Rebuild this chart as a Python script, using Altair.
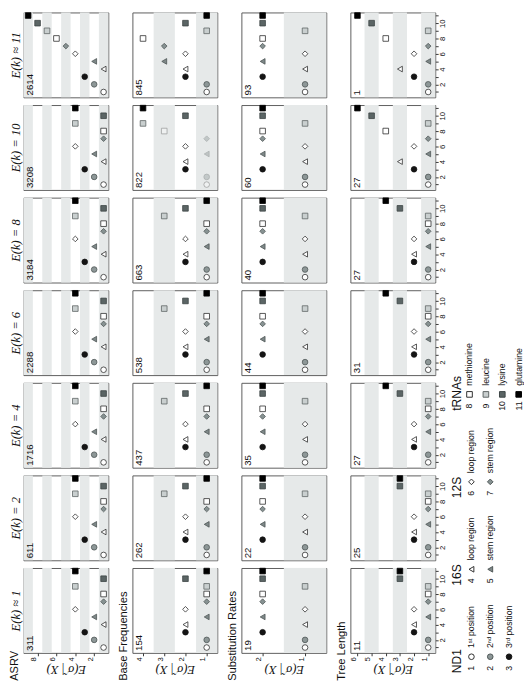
import altair as alt
import pandas as pd

# ---------------- data ----------------
params = ["ASRV", "Base Frequencies", "Substitution Rates", "Tree Length"]
ek_titles = ["E(k) ≈ 1", "E(k) = 2", "E(k) = 4", "E(k) = 6", "E(k) = 8", "E(k) = 10", "E(k) ≈ 11"]
partitions = list(range(1, 12))

# E(sigma | X) for partitions 1..11, one list per E(k) setting (E≈1 first)
asrv_vals = [
    [1, 2, 3, 1, 2, 4, 1, 1, 4, 1, 4],
    [1, 2, 3, 1, 2, 4, 1, 1, 4, 1, 4],
    [1, 2, 3, 1, 2, 4, 1, 1, 4, 1, 4],
    [1, 2, 3, 1, 2, 4, 1, 1, 4, 1, 4],
    [1, 2, 3, 1, 2, 4, 1, 1, 4, 1, 4],
    [1, 2, 3, 1, 2, 4, 1, 1, 4, 1, 4],
    [1, 2, 3, 1, 2, 4, 5, 6, 7, 8, 9],
]
bf_vals = [
    [1, 1, 2, 2, 1, 2, 1, 1, 1, 2, 1],
    [1, 1, 2, 2, 1, 2, 1, 1, 3, 2, 1],
    [1, 1, 2, 2, 1, 2, 1, 1, 3, 2, 1],
    [1, 1, 2, 2, 1, 2, 1, 1, 3, 2, 1],
    [1, 1, 2, 2, 1, 2, 1, 1, 3, 2, 1],
    [1, 1, 2, 2, 1, 2, 1, 3, 4, 2, 4],
    [1, 1, 2, 2, 3, 2, 3, 4, 1, 2, 1],
]
sr_vals = [
    [1, 1, 2, 1, 2, 1, 2, 2, 1, 2, 2],
    [1, 1, 2, 1, 2, 1, 2, 2, 1, 2, 2],
    [1, 1, 2, 1, 2, 1, 2, 2, 1, 2, 2],
    [1, 1, 2, 1, 2, 1, 2, 2, 1, 2, 2],
    [1, 1, 2, 1, 2, 1, 2, 2, 1, 2, 2],
    [1, 1, 2, 1, 2, 1, 2, 2, 1, 2, 2],
    [1, 1, 2, 1, 2, 1, 2, 2, 1, 2, 2],
]
tl_vals = [
    [1, 1, 2, 2, 1, 2, 1, 1, 1, 3, 3],
    [1, 1, 2, 2, 1, 2, 1, 1, 1, 3, 3],
    [1, 1, 2, 2, 1, 2, 1, 1, 1, 3, 4],
    [1, 1, 2, 2, 1, 2, 1, 1, 1, 3, 4],
    [1, 1, 2, 2, 1, 2, 1, 1, 1, 3, 4],
    [1, 1, 2, 3, 1, 2, 1, 4, 1, 5, 6],
    [1, 1, 2, 3, 1, 2, 1, 4, 1, 5, 6],
]
asrv_counts = [311, 611, 1716, 2288, 3184, 3208, 2614]
bf_counts = [154, 262, 437, 538, 663, 822, 845]
sr_counts = [19, 22, 35, 44, 40, 60, 93]
tl_counts = [11, 25, 27, 31, 27, 27, 1]

# faded (uncertain) points: (parameter index, E(k) index, partition)
faded_points = [(1, 5, 1), (1, 5, 2), (1, 5, 5), (1, 5, 7), (1, 5, 8)]

all_vals = [asrv_vals, bf_vals, sr_vals, tl_vals]
all_counts = [asrv_counts, bf_counts, sr_counts, tl_counts]
value_max = [9, 4, 2, 6]
axis_ticks = [[2, 4, 6, 8], [1, 2, 3, 4], [1, 2], [1, 2, 3, 4, 5, 6]]

# partition styling
shapes = ["circle", "circle", "circle", "triangle-left", "triangle-left",
          "diamond", "diamond", "square", "square", "square", "square"]
fills = ["#ffffff", "#8d9797", "#141414", "#ffffff", "#7e8888", "#ffffff",
         "#879292", "#ffffff", "#c9cfcf", "#5b6565", "#000000"]
strokes = ["#2a2a2a", "#4d5555", "#141414", "#2a2a2a", "#4d5555", "#2a2a2a",
           "#4d5555", "#2a2a2a", "#5d6363", "#3a4343", "#000000"]
sizes = [34, 34, 34, 46, 46, 46, 46, 34, 34, 34, 34]
legend_sizes = [165, 165, 165, 240, 240, 230, 230, 150, 150, 150, 150]

legend_groups = ["ND1", "16S", "12S", "tRNAs"]
legend_group_of = [0, 0, 0, 1, 1, 2, 2, 3, 3, 3, 3]
legend_entry_of = [1, 2, 3, 1, 2, 1, 2, 1, 2, 3, 4]
legend_labels = ["1ˢᵗ position", "2ⁿᵈ position", "3ʳᵈ position", "loop region", "stem region",
                 "loop region", "stem region", "methionine", "leucine", "lysine", "glutamine"]

SANS = "Liberation Sans"
SERIF = "Liberation Serif"
PW, PH = 88, 88
part_domain = [str(p) for p in partitions]

shape_s = alt.Scale(domain=part_domain, range=shapes)
fill_s = alt.Scale(domain=part_domain, range=fills)
stroke_s = alt.Scale(domain=part_domain, range=strokes)
size_s = alt.Scale(domain=part_domain, range=sizes)
lsize_s = alt.Scale(domain=part_domain, range=legend_sizes)


def panel(pi, ei):
    vmax = value_max[pi]
    xs = alt.Scale(domain=[0.5, vmax + 0.5], reverse=True, nice=False, zero=False)
    ys = alt.Scale(domain=[0.3, 11.4], nice=False, zero=False)
    if ei == 0:
        xaxis = alt.Axis(values=axis_ticks[pi], title="E(σ̃ | X)", labelAngle=270,
                         labelAlign="right", labelBaseline="bottom", labelFontSize=8,
                         labelFont=SANS, labelPadding=1, tickSize=3, tickColor="#333",
                         domain=False, grid=False, titleAngle=180, titleBaseline="bottom",
                         titleFont=SERIF, titleFontStyle="italic", titleFontWeight="normal",
                         titleFontSize=13, titlePadding=2, titleColor="#111", labelColor="#111")
    else:
        xaxis = None
    if pi == 0:
        yaxis = alt.Axis(title=ek_titles[ei], labels=False, ticks=False, domain=False, grid=False,
                         titleFont=SERIF, titleFontStyle="italic", titleFontWeight="normal",
                         titleFontSize=13, titlePadding=1, titleColor="#111")
    elif pi == 3:
        yaxis = alt.Axis(title=None, orient="right", values=partitions, grid=False, domain=False,
                         labelExpr="datum.value % 2 == 0 ? datum.label : ''",
                         labelAngle=270, labelAlign="center", labelBaseline="top",
                         labelFontSize=8, labelFont=SANS, labelPadding=1, tickSize=3,
                         tickColor="#333", labelColor="#111")
    else:
        yaxis = None

    bands = pd.DataFrame({"lo": [v - 0.5 for v in range(1, vmax + 1, 2)],
                          "hi": [v + 0.5 for v in range(1, vmax + 1, 2)]})
    vals = all_vals[pi][ei]
    pts = pd.DataFrame({
        "part": [str(p) for p in partitions],
        "val": vals,
        "faded": [1 if (pi, ei, p) in faded_points else 0 for p in partitions],
    })
    pts["pnum"] = partitions
    corner = pd.DataFrame({"xpos": [vmax + 0.5], "ypos": [0.3],
                           "n": [str(all_counts[pi][ei])], "param": [params[pi]]})

    band_layer = alt.Chart(bands).mark_rect(color="#e6e9e9").encode(
        x=alt.X("lo:Q", scale=xs, axis=xaxis), x2="hi:Q")
    pt_layer = alt.Chart(pts).mark_point(filled=True, strokeWidth=0.8).encode(
        x=alt.X("val:Q", scale=xs, axis=xaxis),
        y=alt.Y("pnum:Q", scale=ys, axis=yaxis),
        shape=alt.Shape("part:N", scale=shape_s, legend=None),
        fill=alt.Fill("part:N", scale=fill_s, legend=None),
        stroke=alt.Stroke("part:N", scale=stroke_s, legend=None),
        size=alt.Size("part:N", scale=size_s, legend=None),
        opacity=alt.Opacity("faded:N", scale=alt.Scale(domain=[0, 1], range=[1.0, 0.38]), legend=None),
    )
    txt_layer = alt.Chart(corner).mark_text(angle=270, align="left", baseline="top", dx=2, dy=2,
                                             font=SANS, fontSize=10, color="#111").encode(
        x=alt.X("xpos:Q", scale=xs, axis=xaxis),
        y=alt.Y("ypos:Q", scale=ys, axis=yaxis),
        text="n:N")
    layers = [band_layer, pt_layer, txt_layer]
    if ei == 0:
        # the parameter name, written below-left of the bottom panel of each column
        layers.append(alt.Chart(corner).mark_text(
            angle=270, align="left", baseline="bottom", dx=-29, dy=-4,
            font=SANS, fontSize=11.5, color="#111").encode(
            x=alt.X("xpos:Q", scale=xs, axis=xaxis),
            y=alt.Y("ypos:Q", scale=ys, axis=yaxis),
            text="param:N"))
    return alt.layer(*layers).properties(width=PW, height=PH)


columns = [alt.vconcat(*[panel(pi, ei) for ei in reversed(range(7))], spacing=5)
           for pi in range(4)]

# ---------------- custom legend ----------------
leg = pd.DataFrame({
    "part": [str(p) for p in partitions],
    "num": [str(p) for p in partitions],
    "group": legend_group_of,
    "entry": legend_entry_of,
    "label": legend_labels,
})
heads = pd.DataFrame({"group": [0, 1, 2, 3], "entry": [1, 1, 1, 1], "name": legend_groups})
LEG_W, LEG_H = 78, 679
ly = alt.Scale(domain=[-0.1213, 7.3675], nice=False, zero=False)


def legend_part(df, hd, first, step, head_dy):
    lx = alt.Scale(domain=[1 - first / step, 1 + (LEG_W - first) / step], nice=False, zero=False)
    base_x = alt.X("entry:Q", scale=lx, axis=None)
    base_y = alt.Y("group:Q", scale=ly, axis=None)
    pts = alt.Chart(df).mark_point(filled=True, strokeWidth=1, opacity=1).encode(
        x=base_x, y=base_y,
        shape=alt.Shape("part:N", scale=shape_s, legend=None),
        fill=alt.Fill("part:N", scale=fill_s, legend=None),
        stroke=alt.Stroke("part:N", scale=stroke_s, legend=None),
        size=alt.Size("part:N", scale=lsize_s, legend=None),
    )
    num = alt.Chart(df).mark_text(angle=270, align="center", baseline="middle", dx=-12,
                                  font=SANS, fontSize=9, color="#111").encode(
        x=base_x, y=base_y, text="num:N")
    lab = alt.Chart(df).mark_text(angle=270, align="left", baseline="middle", dx=9,
                                  font=SANS, fontSize=9, color="#111").encode(
        x=base_x, y=base_y, text="label:N")
    head = alt.Chart(hd).mark_text(angle=270, align="left", baseline="middle", dx=-17, dy=head_dy,
                                   font=SANS, fontSize=12.5, color="#111").encode(
        x=base_x, y=base_y, text="name:N")
    return [pts, num, lab, head]


first_groups = leg[leg["group"] < 3]
trna = leg[leg["group"] == 3]
# ND1/16S/12S entry rows 19.5px apart, the four tRNA rows 17px apart
layers = legend_part(first_groups, heads[heads["group"] < 3], 24.5, 19.5, -15)
layers += legend_part(trna, heads[heads["group"] == 3], 22.5, 17.0, -13)
legend = alt.layer(*layers).resolve_scale(x="independent").properties(
    width=LEG_W, height=LEG_H, view=alt.ViewBackground(stroke=None))

panels = alt.hconcat(*columns, spacing=8)
chart = alt.hconcat(panels, legend, spacing=0).properties(
    padding={"left": 0, "top": -10, "right": 0, "bottom": 0}
).configure_view(stroke="#5a5a5a", strokeWidth=1)

chart.save("out.html", embed_options={"renderer": "svg", "actions": False})
